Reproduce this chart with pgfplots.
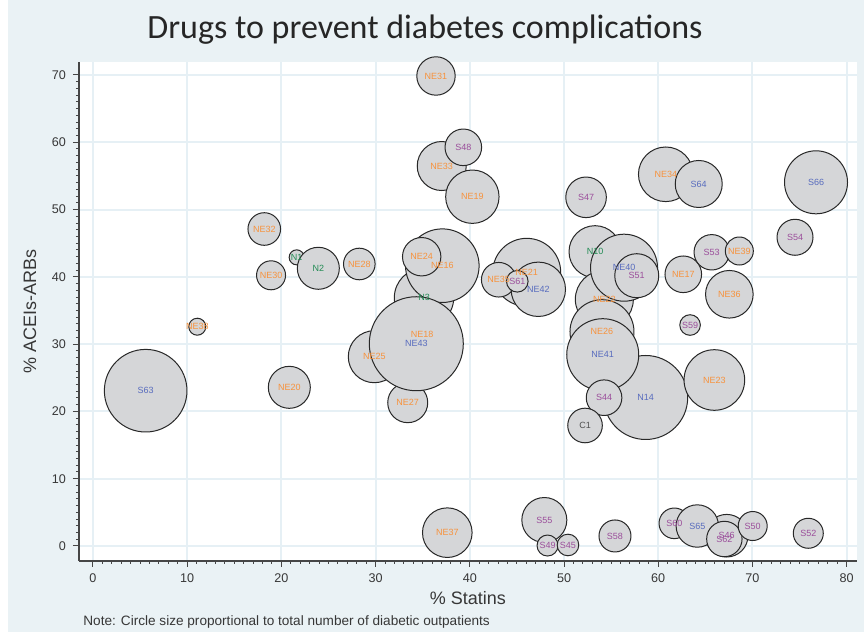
\documentclass[border=0pt]{standalone}
\usepackage{pgfplots}
\pgfplotsset{compat=1.18}
\usepackage{pgfplotstable}
\usepackage{fontspec}
\setmainfont{Liberation Sans}
\newfontfamily\titlefont{Carlito}
\definecolor{bgc}{RGB}{234,242,245}
\definecolor{gridc}{RGB}{230,240,245}
\definecolor{bubfill}{RGB}{213,214,216}
\definecolor{bubedge}{RGB}{40,40,40}
\definecolor{axc}{RGB}{70,70,70}
\definecolor{txtc}{RGB}{55,55,55}
\definecolor{cor}{RGB}{247,146,60}
\definecolor{cbl}{RGB}{88,108,190}
\definecolor{cgr}{RGB}{34,139,84}
\definecolor{cpu}{RGB}{155,78,155}
\definecolor{cgy}{RGB}{80,80,80}

\pgfplotstableread{
x y r lab
36.41 69.85 9.6 \textcolor{cor}{NE31}
37.02 56.47 12.25 \textcolor{cor}{NE33}
39.31 59.25 9.15 \textcolor{cpu}{S48}
40.27 51.91 13.35 \textcolor{cor}{NE19}
60.80 55.24 13.65 \textcolor{cor}{NE34}
64.30 53.80 11.75 \textcolor{cbl}{S64}
76.75 54.05 15.75 \textcolor{cbl}{S66}
52.34 51.82 10.15 \textcolor{cpu}{S47}
18.18 47.11 8.15 \textcolor{cor}{NE32}
21.62 42.90 3.75 \textcolor{cgr}{N1}
23.92 41.27 10.5 \textcolor{cgr}{N2}
28.27 41.91 7.9 \textcolor{cor}{NE28}
18.90 40.23 7.25 \textcolor{cor}{NE30}
35.14 36.90 14.85 \textcolor{cgr}{N3}
37.08 41.66 18.4 \textcolor{cor}{NE16}
34.89 42.99 9.6 \textcolor{cor}{NE24}
11.07 32.59 4.25 \textcolor{cor}{NE38}
29.86 28.13 13 \textcolor{cor}{NE25}
33.41 21.30 10 \textcolor{cor}{NE27}
34.93 31.46 15 \textcolor{cor}{NE18}
34.32 30.06 23.5 \textcolor{cbl}{NE43}
46.04 40.67 17 \textcolor{cor}{NE21}
43.07 39.57 8.65 \textcolor{cor}{NE35}
47.27 38.15 13.6 \textcolor{cbl}{NE42}
45.04 39.34 5.4 \textcolor{cpu}{S61}
53.29 43.74 13 \textcolor{cgr}{N10}
54.28 36.66 14.5 \textcolor{cor}{NE22}
56.37 41.36 16.75 \textcolor{cbl}{NE40}
57.72 40.17 11 \textcolor{cpu}{S51}
54.03 31.85 16 \textcolor{cor}{NE26}
58.67 22.07 21 \textcolor{cbl}{N14}
54.11 28.43 18 \textcolor{cbl}{NE41}
54.25 22.04 8.9 \textcolor{cpu}{S44}
52.23 17.91 8.65 \textcolor{cgy}{C1}
62.66 40.38 9.15 \textcolor{cor}{NE17}
65.68 43.65 8.85 \textcolor{cpu}{S53}
68.61 43.84 7 \textcolor{cor}{NE39}
74.52 45.88 9 \textcolor{cpu}{S54}
67.55 37.41 11.9 \textcolor{cor}{NE36}
63.38 32.84 5.15 \textcolor{cpu}{S59}
65.96 24.67 15.15 \textcolor{cor}{NE23}
5.59 23.08 20.65 \textcolor{cbl}{S63}
20.84 23.58 10.5 \textcolor{cor}{NE20}
37.61 1.98 12.4 \textcolor{cor}{NE37}
47.91 3.86 11.25 \textcolor{cpu}{S55}
48.25 0.07 5.25 \textcolor{cpu}{S49}
50.42 0.15 5.4 \textcolor{cpu}{S45}
55.41 1.49 8 \textcolor{cpu}{S58}
61.71 3.37 7.65 \textcolor{cpu}{S60}
67.27 1.53 10.65 \textcolor{cpu}{S46}
64.15 2.97 10.6 \textcolor{cbl}{S65}
67.02 1.04 8.85 \textcolor{cpu}{S62}
70.03 2.97 7.25 \textcolor{cpu}{S50}
75.93 1.89 7.5 \textcolor{cpu}{S52}
}\bubbles

\begin{document}
\begin{tikzpicture}
\useasboundingbox (0,0) rectangle (432pt,316pt);
\fill[white] (0,0) rectangle (432pt,316pt);
\fill[bgc] (4pt,0) rectangle (432pt,316pt);
\begin{axis}[
  at={(39.5pt,35.5pt)}, anchor=south west,
  scale only axis, width=389pt, height=249.5pt,
  xmin=-1.486, xmax=81.10, ymin=-2.229, ymax=71.93,
  axis background/.style={fill=white},
  axis x line*=bottom, axis y line*=left,
  axis line style={color=axc, line width=0.8pt},
  xtick={0,10,...,80}, ytick={0,10,...,70},
  minor x tick num=9, minor y tick num=9,
  tick align=outside,
  major tick length=3pt, minor tick length=1.5pt,
  tick style={color=axc, line width=0.5pt},
  grid=major,
  major grid style={color=gridc, line width=1pt},
  /pgf/number format/assume math mode=true,
  ticklabel style={font=\fontsize{6.3}{7}\selectfont, text=txtc},
  xlabel={\% Statins},
  ylabel={\% ACEIs-ARBs},
  xlabel style={at={(axis description cs:0.5,-0.074)}, anchor=center, font=\fontsize{9}{10}\selectfont, text=txtc},
  ylabel style={at={(axis description cs:-0.063,0.5)}, anchor=center, font=\fontsize{9}{10}\selectfont, text=txtc},
]
\addplot[scatter, only marks, mark=*,
  scatter/use mapped color={draw=bubedge, fill=bubfill},
  visualization depends on={\thisrow{r} \as \rr},
  scatter/@pre marker code/.append style={/tikz/mark size=\rr},
  mark options={line width=0.5pt}]
  table[x=x, y=y] {\bubbles};
\addplot[draw=none, mark=none,
  point meta=explicit symbolic,
  nodes near coords={\pgfplotspointmeta},
  nodes near coords style={anchor=center, inner sep=0pt, font=\fontsize{4.5}{5}\selectfont}]
  table[x=x, y=y, meta=lab] {\bubbles};
\end{axis}
\node[font=\titlefont\fontsize{17}{20}\selectfont, text=black!85] at (212.5pt,301pt) {Drugs to prevent diabetes complications};
\node[anchor=west, font=\fontsize{6.8}{8}\selectfont, text=txtc, inner sep=0pt] at (41.5pt,5pt) {Note: Circle size proportional to total number of diabetic outpatients};
\end{tikzpicture}
\end{document}
